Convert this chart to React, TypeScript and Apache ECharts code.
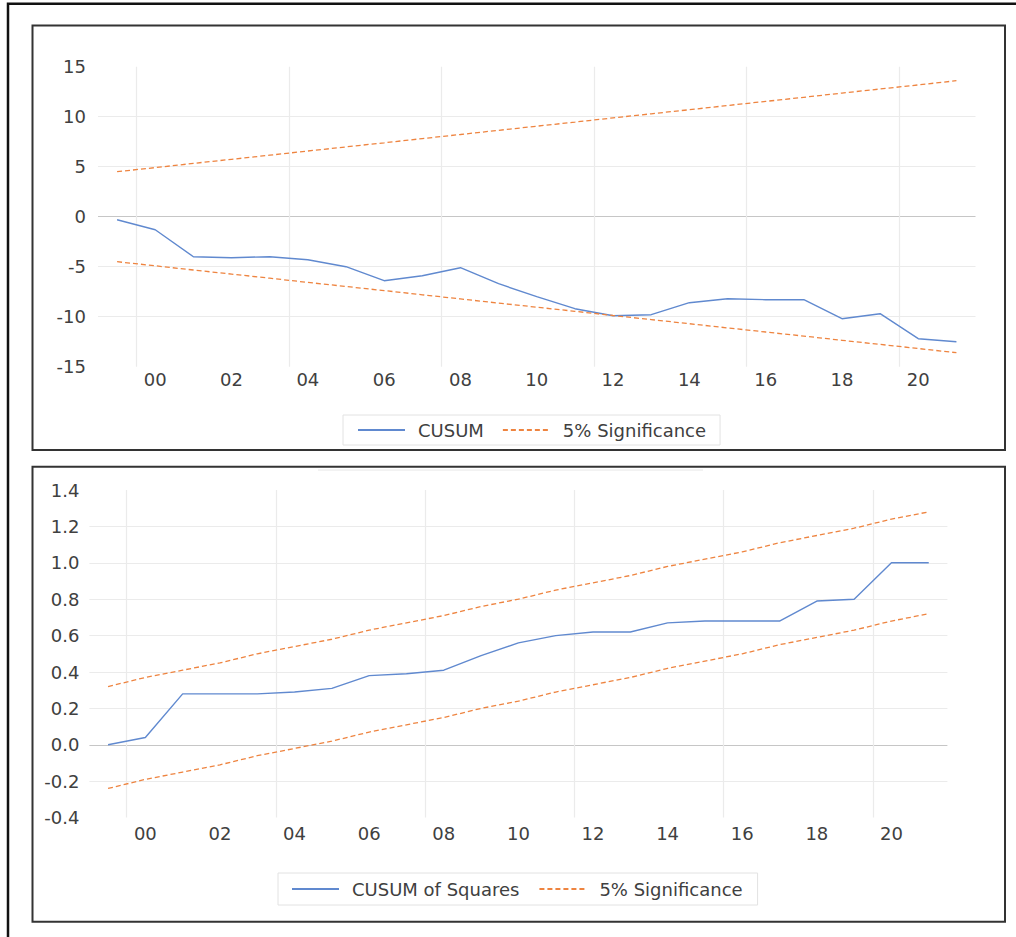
import React, { useEffect, useRef } from "react";
import * as echarts from "echarts";

const years = ["1999","2000","2001","2002","2003","2004","2005","2006","2007","2008","2009","2010","2011","2012","2013","2014","2015","2016","2017","2018","2019","2020","2021"];

const cusum = [-0.3, -1.3, -4.0, -4.1, -4.0, -4.3, -5.0, -6.4, -5.9, -5.1, -6.7, -8.0, -9.2, -9.9, -9.8, -8.6, -8.2, -8.3, -8.3, -10.2, -9.7, -12.2, -12.5];
const cusumUpper = [4.50, 4.91, 5.33, 5.74, 6.15, 6.57, 6.98, 7.39, 7.81, 8.22, 8.64, 9.05, 9.46, 9.88, 10.29, 10.70, 11.12, 11.53, 11.94, 12.36, 12.77, 13.18, 13.60];
const cusumLower = [-4.50, -4.91, -5.33, -5.74, -6.15, -6.57, -6.98, -7.39, -7.81, -8.22, -8.64, -9.05, -9.46, -9.88, -10.29, -10.70, -11.12, -11.53, -11.94, -12.36, -12.77, -13.18, -13.60];

const cusumSq = [0.00, 0.04, 0.28, 0.28, 0.28, 0.29, 0.31, 0.38, 0.39, 0.41, 0.49, 0.56, 0.60, 0.62, 0.62, 0.67, 0.68, 0.68, 0.68, 0.79, 0.80, 1.00, 1.00];
const sqUpper = [0.32, 0.37, 0.41, 0.45, 0.50, 0.54, 0.58, 0.63, 0.67, 0.71, 0.76, 0.80, 0.85, 0.89, 0.93, 0.98, 1.02, 1.06, 1.11, 1.15, 1.19, 1.24, 1.28];
const sqLower = [-0.24, -0.19, -0.15, -0.11, -0.06, -0.02, 0.02, 0.07, 0.11, 0.15, 0.20, 0.24, 0.29, 0.33, 0.37, 0.42, 0.46, 0.50, 0.55, 0.59, 0.63, 0.68, 0.72];

const legendTop = ["CUSUM", "5% Significance"];
const legendBottom = ["CUSUM of Squares", "5% Significance"];

const BLUE = "#6089cf";
const ORANGE = "#ee8440";
const GRID = "#ebebeb";
const ZERO = "#c6c6c6";
const TEXT = "#404040";
const FONT = "DejaVu Sans";

export default function App() {
  const ref = useRef<HTMLDivElement>(null);
  useEffect(() => {
    if (!ref.current) return;
    const chart = echarts.init(ref.current, null, { renderer: "svg" });

    const xAxisCommon = (gridIndex: number, margin: number) => ({
      type: "category",
      gridIndex,
      data: years,
      boundaryGap: true,
      axisLine: { show: false, onZero: false },
      axisTick: { show: false },
      axisLabel: {
        interval: (i: number) => i % 2 === 1,
        formatter: (v: string) => v.slice(2),
        color: TEXT,
        fontSize: 18,
        fontFamily: FONT,
        margin,
      },
      splitLine: {
        show: true,
        interval: (i: number) => i % 4 === 1,
        lineStyle: { color: [GRID, GRID, GRID, GRID, GRID, GRID, "rgba(0,0,0,0)"], width: 1.2 },
      },
    });

    const lineSeries = (name: string, data: number[], idx: number, dashed: boolean) => ({
      name,
      type: "line",
      xAxisIndex: idx,
      yAxisIndex: idx,
      data,
      symbol: "none",
      showSymbol: false,
      lineStyle: dashed
        ? { color: ORANGE, width: 1.3, type: [5, 3] }
        : { color: BLUE, width: 1.4 },
      itemStyle: { color: dashed ? ORANGE : BLUE },
      emphasis: { disabled: true },
      silent: true,
    });

    const legendCommon = {
      orient: "horizontal",
      borderColor: "#e2e2e2",
      borderWidth: 1,
      itemWidth: 47,
      itemHeight: 18,
      selectedMode: false,
      itemStyle: { opacity: 0 },
      textStyle: { color: TEXT, fontSize: 18, fontFamily: FONT, padding: [0, 0, 0, 8] },
    };

    const t = "rgba(0,0,0,0)";
    chart.setOption({
      animation: false,
      backgroundColor: "#ffffff",
      grid: [
        { left: 98, top: 66.7, width: 877.5, height: 300, containLabel: false },
        { left: 89.4, top: 490, width: 858, height: 327.6, containLabel: false },
      ],
      xAxis: [xAxisCommon(0, 4), xAxisCommon(1, 7)],
      yAxis: [
        {
          type: "value",
          gridIndex: 0,
          min: -15,
          max: 15,
          interval: 5,
          axisLine: { show: false },
          axisTick: { show: false },
          axisLabel: { color: TEXT, fontSize: 18, fontFamily: FONT, margin: 12, padding: [0, 0, 5, 0] },
          splitLine: { show: true, lineStyle: { color: [t, GRID, GRID, ZERO, GRID, GRID, t], width: 1.2 } },
        },
        {
          type: "value",
          gridIndex: 1,
          min: -0.4,
          max: 1.4,
          interval: 0.2,
          axisLine: { show: false },
          axisTick: { show: false },
          axisLabel: {
            color: TEXT,
            fontSize: 18,
            fontFamily: FONT,
            margin: 10,
            padding: [0, 0, 5, 0],
            formatter: (v: number) => v.toFixed(1),
          },
          splitLine: {
            show: true,
            lineStyle: { color: [t, GRID, ZERO, GRID, GRID, GRID, GRID, GRID, GRID, t], width: 1.2 },
          },
        },
      ],
      legend: [
        { ...legendCommon, data: legendTop, left: 343, top: 415, padding: [6, 14, 6, 14], itemGap: 18 },
        { ...legendCommon, data: legendBottom, left: 278, top: 873, padding: [7, 15, 7, 13], itemGap: 19 },
      ],
      series: [
        lineSeries("CUSUM", cusum, 0, false),
        lineSeries("5% Significance", cusumUpper, 0, true),
        lineSeries("5% Significance", cusumLower, 0, true),
        lineSeries("CUSUM of Squares", cusumSq, 1, false),
        lineSeries("5% Significance", sqUpper, 1, true),
        lineSeries("5% Significance", sqLower, 1, true),
      ],
      graphic: [
        {
          type: "rect",
          silent: true,
          shape: { x: 8, y: 3.7, width: 1030, height: 960 },
          style: { fill: "none", stroke: "#111111", lineWidth: 2.5 },
        },
        {
          type: "rect",
          silent: true,
          shape: { x: 32.5, y: 25.5, width: 972.5, height: 424.5 },
          style: { fill: "none", stroke: "#333333", lineWidth: 2 },
        },
        {
          type: "rect",
          silent: true,
          shape: { x: 32.5, y: 466.7, width: 972.5, height: 455 },
          style: { fill: "none", stroke: "#333333", lineWidth: 2 },
        },
        {
          type: "line",
          silent: true,
          shape: { x1: 318, y1: 470, x2: 703, y2: 470 },
          style: { stroke: "#e6e6e6", lineWidth: 1 },
        },
      ],
    });
    return () => chart.dispose();
  }, []);
  return (
    <div
      ref={ref}
      style={{ position: "absolute", left: 0, top: 0, width: 1016, height: 937, background: "#fff" }}
    />
  );
}
